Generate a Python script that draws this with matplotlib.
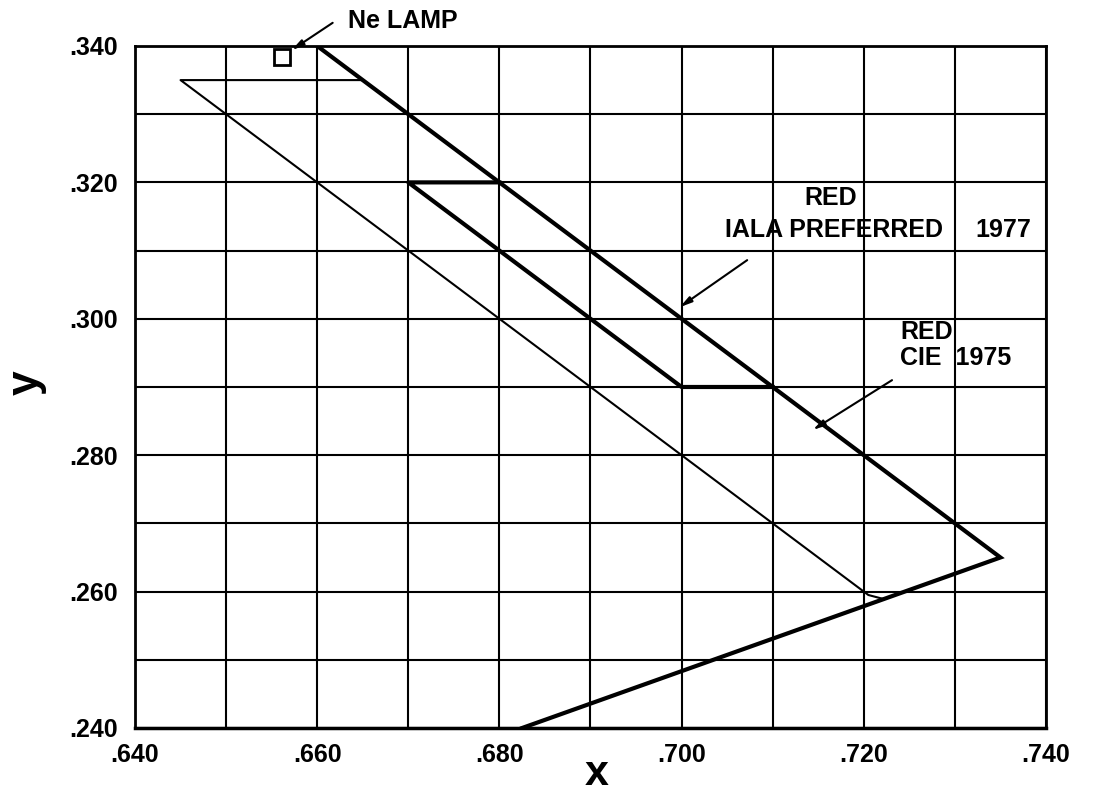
import matplotlib
matplotlib.use("Agg")
import matplotlib.pyplot as plt
from matplotlib.ticker import MultipleLocator, FuncFormatter

plt.rcParams['font.family'] = ['Liberation Sans', 'DejaVu Sans']
plt.rcParams['font.weight'] = 'bold'

# chromaticity boundaries (x, y)
outer_x = [0.660, 0.735, 0.6825]          # thick outline + spectrum locus
outer_y = [0.340, 0.265, 0.240]
iala_x = [0.680, 0.670, 0.700, 0.710]     # IALA preferred red
iala_y = [0.320, 0.320, 0.290, 0.290]
cie_x = [0.665, 0.645, 0.7205, 0.7222]    # CIE 1975 red
cie_y = [0.335, 0.335, 0.2595, 0.2589]
lamp_x, lamp_y = 0.6561, 0.3384           # Ne lamp point

# labels: (text, x, y, alignment)
labels = [
    ("RED", 0.7164, 0.3177, "center"),
    ("IALA PREFERRED", 0.7048, 0.3130, "left"),
    ("1977", 0.7322, 0.3130, "left"),
    ("RED", 0.7269, 0.2981, "center"),
    ("CIE  1975", 0.7240, 0.2943, "left"),
]
# arrows: (tail x, tail y, head x, head y)
arrows = [
    (0.6617, 0.3434, 0.6572, 0.3394),
    (0.7072, 0.3086, 0.6998, 0.3017),
    (0.7231, 0.2910, 0.7144, 0.2837),
]

fig = plt.figure(figsize=(10.94, 7.93), dpi=100)
ax = fig.add_axes([0.1234, 0.082, 0.8327, 0.860])

ax.plot(outer_x, outer_y, color="black", lw=3, solid_joinstyle="miter")
ax.plot(iala_x, iala_y, color="black", lw=3)
ax.plot(cie_x, cie_y, color="black", lw=1.5)
ax.plot([lamp_x], [lamp_y], marker="s", ms=11, mfc="white", mec="black", mew=2,
        clip_on=False)

for tx, ty, hx, hy in arrows:
    ax.annotate("", xy=(hx, hy), xytext=(tx, ty), xycoords="data",
                annotation_clip=False,
                arrowprops=dict(arrowstyle="-|>,head_length=0.7,head_width=0.18",
                                color="black", lw=1.5, shrinkA=0, shrinkB=0))

ax.text(0.6634, 0.3437, "Ne LAMP", fontsize=18, fontweight="bold",
        ha="left", va="center", clip_on=False)
for txt, x, y, ha in labels:
    ax.text(x, y, txt, fontsize=18, fontweight="bold", ha=ha, va="center")

ax.set_xlim(0.640, 0.740)
ax.set_ylim(0.240, 0.340)
ax.xaxis.set_major_locator(MultipleLocator(0.020))
ax.xaxis.set_minor_locator(MultipleLocator(0.010))
ax.yaxis.set_major_locator(MultipleLocator(0.020))
ax.yaxis.set_minor_locator(MultipleLocator(0.010))
fmt = FuncFormatter(lambda v, pos: f"{v:.3f}"[1:])
ax.xaxis.set_major_formatter(fmt)
ax.yaxis.set_major_formatter(fmt)
ax.tick_params(which="both", length=0, labelsize=18)
ax.tick_params(axis="x", pad=11)
ax.tick_params(axis="y", pad=12)
for lab in ax.get_xticklabels() + ax.get_yticklabels():
    lab.set_fontweight("bold")

ax.grid(which="both", color="black", lw=1.5)
ax.set_axisbelow(True)
for s in ax.spines.values():
    s.set_linewidth(2)
ax.spines["bottom"].set_linewidth(2.5)

ax.set_xlabel("x", fontsize=31, fontweight="bold", va="center")
ax.xaxis.set_label_coords(0.507, -0.068)
ax.set_ylabel("y", fontsize=32, fontweight="bold", va="center")
ax.yaxis.set_label_coords(-0.119, 0.506)

fig.savefig("out.png", dpi=100)
